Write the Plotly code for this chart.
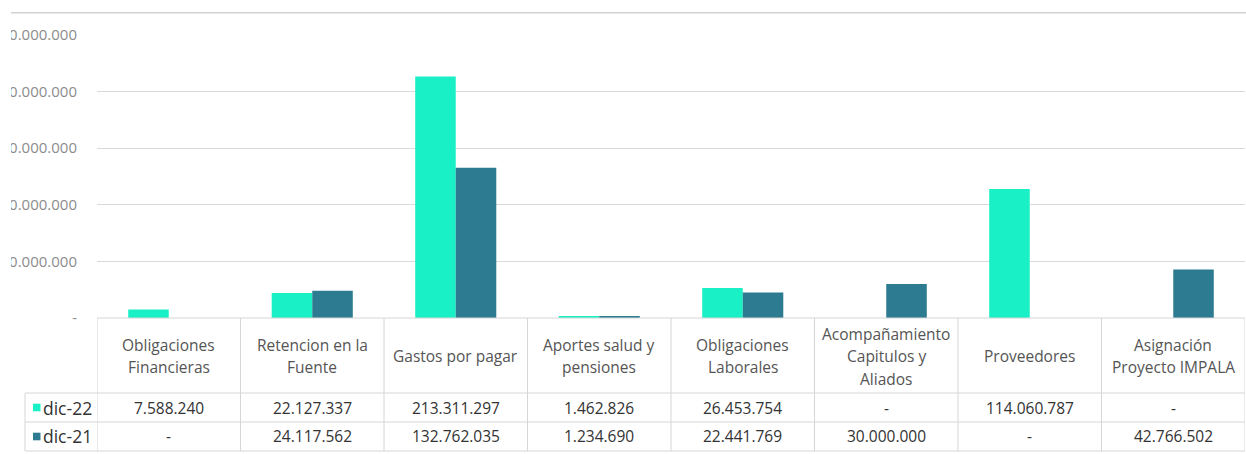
import plotly.graph_objects as go

# ---------------- data ----------------
categories = [
    "Obligaciones<br>Financieras",
    "Retencion en la<br>Fuente",
    "Gastos por pagar",
    "Aportes salud y<br>pensiones",
    "Obligaciones<br>Laborales",
    "Acompañamiento<br>Capitulos y<br>Aliados",
    "Proveedores",
    "Asignación<br>Proyecto IMPALA",
]
series_names = ["dic-22", "dic-21"]
dic_22 = [7588240, 22127337, 213311297, 1462826, 26453754, None, 114060787, None]
dic_21 = [None, 24117562, 132762035, 1234690, 22441769, 30000000, None, 42766502]
y_tick_values = [0, 50000000, 100000000, 150000000, 200000000, 250000000]
y_tick_labels = ["-", "50.000.000", "100.000.000", "150.000.000", "200.000.000", "250.000.000"]

# ---------------- styling ----------------
COLORS = ["#19F0C6", "#2D7B91"]
FONT = "Open Sans"
GRID = "#D9D9D9"
BORDER = "#D6D6D6"
HEAD_COLOR = "#555555"
VAL_COLOR = "#333333"

W, H = 1246, 454
ML, MR, MT, MB = 97, 1, 35, 136
PW = W - ML - MR
PH = H - MT - MB


def px(xp):
    return (xp - ML) / PW


def py(yp):
    return (H - MB - yp) / PH


def fmt(v):
    return "-" if v is None else f"{v:,}".replace(",", ".")


fig = go.Figure()
for name, vals, col in zip(series_names, [dic_22, dic_21], COLORS):
    fig.add_trace(go.Bar(x=categories, y=vals, name=name, marker_color=col,
                         marker_line_width=0, showlegend=False, hoverinfo="skip"))

shapes = []
annotations = []
n = len(categories)

# table geometry (pixel rows)
TABLE_TOP = 318
HEAD_BOTTOM = 393
ROW_MID = 422
TABLE_BOTTOM = 451
LEG_LEFT = 25
HEAD_CENTER = 356
LINE_STEP = 22.5
ROW_CENTERS = [407.5, 436.5]

line = dict(color=BORDER, width=1)
shapes.append(dict(type="line", xref="x", yref="paper", x0=-0.5, x1=n - 0.5,
                   y0=py(TABLE_TOP), y1=py(TABLE_TOP), line=line, layer="above"))
for yy in [HEAD_BOTTOM, ROW_MID, TABLE_BOTTOM]:
    shapes.append(dict(type="line", xref="paper", yref="paper", x0=px(LEG_LEFT), x1=1,
                       y0=py(yy), y1=py(yy), line=line))
for i in range(n + 1):
    shapes.append(dict(type="line", xref="x", yref="paper", x0=i - 0.5, x1=i - 0.5,
                       y0=py(TABLE_TOP), y1=py(TABLE_BOTTOM), line=line))
shapes.append(dict(type="line", xref="paper", yref="paper", x0=px(LEG_LEFT), x1=px(LEG_LEFT),
                   y0=py(HEAD_BOTTOM), y1=py(TABLE_BOTTOM), line=line))

# header texts
for i, cat in enumerate(categories):
    parts = cat.split("<br>")
    k = len(parts)
    for j, p in enumerate(parts):
        yy = HEAD_CENTER + (j - (k - 1) / 2) * LINE_STEP
        annotations.append(dict(xref="x", yref="paper", x=i, y=py(yy), text=p,
                                showarrow=False, xanchor="center", yanchor="middle",
                                font=dict(family=FONT, size=15.5, color=HEAD_COLOR)))

# values rows + legend keys
for r, (name, vals, col) in enumerate(zip(series_names, [dic_22, dic_21], COLORS)):
    yc = ROW_CENTERS[r]
    for i, v in enumerate(vals):
        annotations.append(dict(xref="x", yref="paper", x=i, y=py(yc), text=fmt(v),
                                showarrow=False, xanchor="center", yanchor="middle",
                                font=dict(family=FONT, size=15.5, color=VAL_COLOR)))
    shapes.append(dict(type="rect", xref="paper", yref="paper", x0=px(33), x1=px(40.5),
                       y0=py(yc + 3.8), y1=py(yc - 3.8), fillcolor=col, line=dict(width=0)))
    annotations.append(dict(xref="paper", yref="paper", x=px(40.5), y=py(yc), text=name,
                            showarrow=False, xanchor="left", yanchor="middle",
                            font=dict(family=FONT, size=17.5, color=VAL_COLOR)))

# white margin on the far left (the original picture is cropped there)
shapes.append(dict(type="rect", xref="paper", yref="paper", x0=px(-5), x1=px(11),
                   y0=py(H + 5), y1=py(-5), fillcolor="white", line=dict(width=0),
                   layer="above"))
# top border line of chart
shapes.append(dict(type="line", xref="paper", yref="paper", x0=px(11), x1=px(W + 2),
                   y0=py(12.7), y1=py(12.7), line=dict(color="#D2D2D2", width=1.6),
                   layer="above"))

fig.update_layout(
    width=W, height=H,
    margin=dict(l=ML, r=MR, t=MT, b=MB, autoexpand=False),
    paper_bgcolor="white", plot_bgcolor="white",
    barmode="group", bargap=0.435, bargroupgap=0,
    shapes=shapes, annotations=annotations,
    xaxis=dict(range=[-0.5, n - 0.5], showticklabels=False, showgrid=False,
               zeroline=False, showline=False, ticks=""),
    yaxis=dict(range=[0, 250000000], tickvals=y_tick_values, ticktext=y_tick_labels,
               showgrid=True, gridcolor=GRID, gridwidth=1, zeroline=False, showline=False,
               ticks="", ticklabelstandoff=19,
               tickfont=dict(family=FONT, size=15, color="#8C8C8C")),
)

fig.write_html("out.html", config={"responsive": False, "displayModeBar": False},
               post_script="document.body.style.margin='0px';document.body.style.overflow='hidden';")
